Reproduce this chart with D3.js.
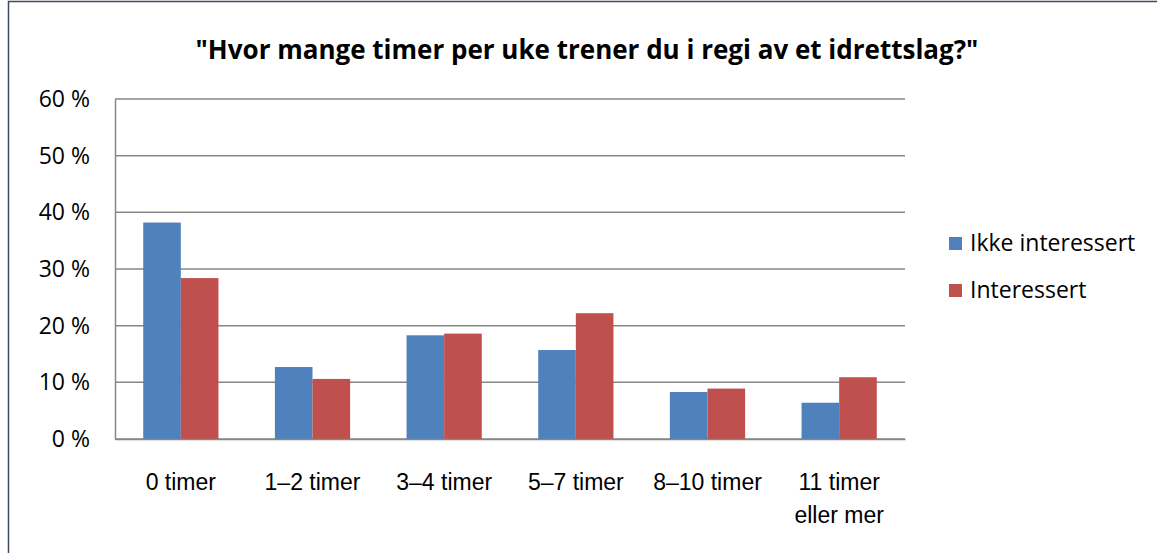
<!DOCTYPE html>
<html>
<head>
<meta charset="utf-8">
<script src="https://cdn.jsdelivr.net/npm/d3@7"></script>
<style>
  body { margin: 0; background: #fff; }
  svg { display: block; font-family: "Open Sans", "Noto Sans", sans-serif; }
</style>
</head>
<body>
<div id="chart-container"></div>
<script>
const title = '"Hvor mange timer per uke trener du i regi av et idrettslag?"';
const categories = ['0 timer', '1–2 timer', '3–4 timer', '5–7 timer', '8–10 timer', '11 timer eller mer'];
const seriesNames = ['Ikke interessert', 'Interessert'];
const ikkeInteressert = [0.382, 0.127, 0.183, 0.157, 0.083, 0.064];
const interessert = [0.284, 0.106, 0.186, 0.222, 0.089, 0.109];
const yTicks = [0, 0.1, 0.2, 0.3, 0.4, 0.5, 0.6];
const colors = ['#4f81bd', '#c0504d'];

const width = 1157;
const height = 553;
const margin = { top: 99, right: 252, bottom: 114, left: 115 };

const data = categories.map((c, i) => ({
    category: c,
    values: [ikkeInteressert[i], interessert[i]]
}));

const svg = d3.select('#chart-container')
    .append('svg')
    .attr('width', width)
    .attr('height', height);

// chart frame
svg.append('rect')
    .attr('x', 8.5)
    .attr('y', 1.5)
    .attr('width', width + 20)
    .attr('height', height + 20)
    .attr('fill', 'none')
    .attr('stroke', '#3d4b5c')
    .attr('stroke-width', 1.5);

svg.append('text')
    .attr('x', 587)
    .attr('y', 59)
    .attr('text-anchor', 'middle')
    .style('font-weight', 'bold')
    .style('font-size', '26px')
    .style('fill', '#000')
    .text(title);

const x0 = d3.scaleBand()
    .domain(categories)
    .range([margin.left, width - margin.right])
    .paddingInner(0)
    .paddingOuter(0);

const x1 = d3.scaleBand()
    .domain(seriesNames)
    .range([0, x0.bandwidth()])
    .paddingInner(0)
    .paddingOuter(0.75);

const y = d3.scaleLinear()
    .domain([0, 0.6])
    .range([height - margin.bottom, margin.top]);

// gridlines
svg.append('g')
    .selectAll('line')
    .data(yTicks)
    .enter()
    .append('line')
    .attr('x1', margin.left)
    .attr('x2', width - margin.right)
    .attr('y1', d => y(d))
    .attr('y2', d => y(d))
    .attr('stroke', '#878787')
    .attr('stroke-width', 1.5);

// y axis
const yAxis = svg.append('g')
    .attr('transform', `translate(${margin.left},0)`)
    .call(d3.axisLeft(y).tickValues(yTicks).tickSize(0).tickPadding(25)
        .tickFormat(d => Math.round(d * 100) + ' %'));
yAxis.select('.domain').attr('stroke', '#878787').attr('stroke-width', 1.5);
yAxis.selectAll('text')
    .style('font-size', '23px')
    .style('font-family', '"Open Sans", sans-serif')
    .style('fill', '#000');

// bars
const groups = svg.append('g')
    .selectAll('g')
    .data(data)
    .enter()
    .append('g')
    .attr('transform', d => `translate(${x0(d.category)},0)`);

groups.selectAll('rect')
    .data(d => d.values.map((v, i) => ({ series: seriesNames[i], value: v, i: i })))
    .enter()
    .append('rect')
    .attr('x', d => x1(d.series))
    .attr('width', x1.bandwidth())
    .attr('y', d => y(d.value))
    .attr('height', d => y(0) - y(d.value))
    .attr('fill', d => colors[d.i]);

// x axis
const xAxis = svg.append('g')
    .attr('transform', `translate(0,${y(0)})`)
    .call(d3.axisBottom(x0).tickSize(0).tickPadding(0));
xAxis.select('.domain').attr('stroke', '#878787').attr('stroke-width', 1.5);
xAxis.selectAll('text').remove();

// category labels, wrapped when wider than the band
const labels = xAxis.selectAll('.tick')
    .append('text')
    .attr('text-anchor', 'middle')
    .style('font-size', '23px')
    .style('fill', '#000')
    .attr('y', 51);

labels.each(function (d) {
    const text = d3.select(this);
    const words = d.split(' ');
    let line = [];
    let tspan = text.append('tspan').attr('x', 0).attr('dy', 0);
    words.forEach(w => {
        line.push(w);
        tspan.text(line.join(' '));
        if (tspan.node().getComputedTextLength() > x0.bandwidth() - 10 && line.length > 1) {
            line.pop();
            tspan.text(line.join(' '));
            line = [w];
            tspan = text.append('tspan').attr('x', 0).attr('dy', 33).text(w);
        }
    });
});

// legend
const legend = svg.append('g')
    .selectAll('g')
    .data(seriesNames)
    .enter()
    .append('g')
    .attr('transform', (d, i) => `translate(949,${237 + i * 47})`);

legend.append('rect')
    .attr('width', 13)
    .attr('height', 13)
    .attr('fill', (d, i) => colors[i]);

legend.append('text')
    .attr('x', 21)
    .attr('y', 14)
    .style('font-size', '23px')
    .style('fill', '#000')
    .text(d => d);
</script>
</body>
</html>
